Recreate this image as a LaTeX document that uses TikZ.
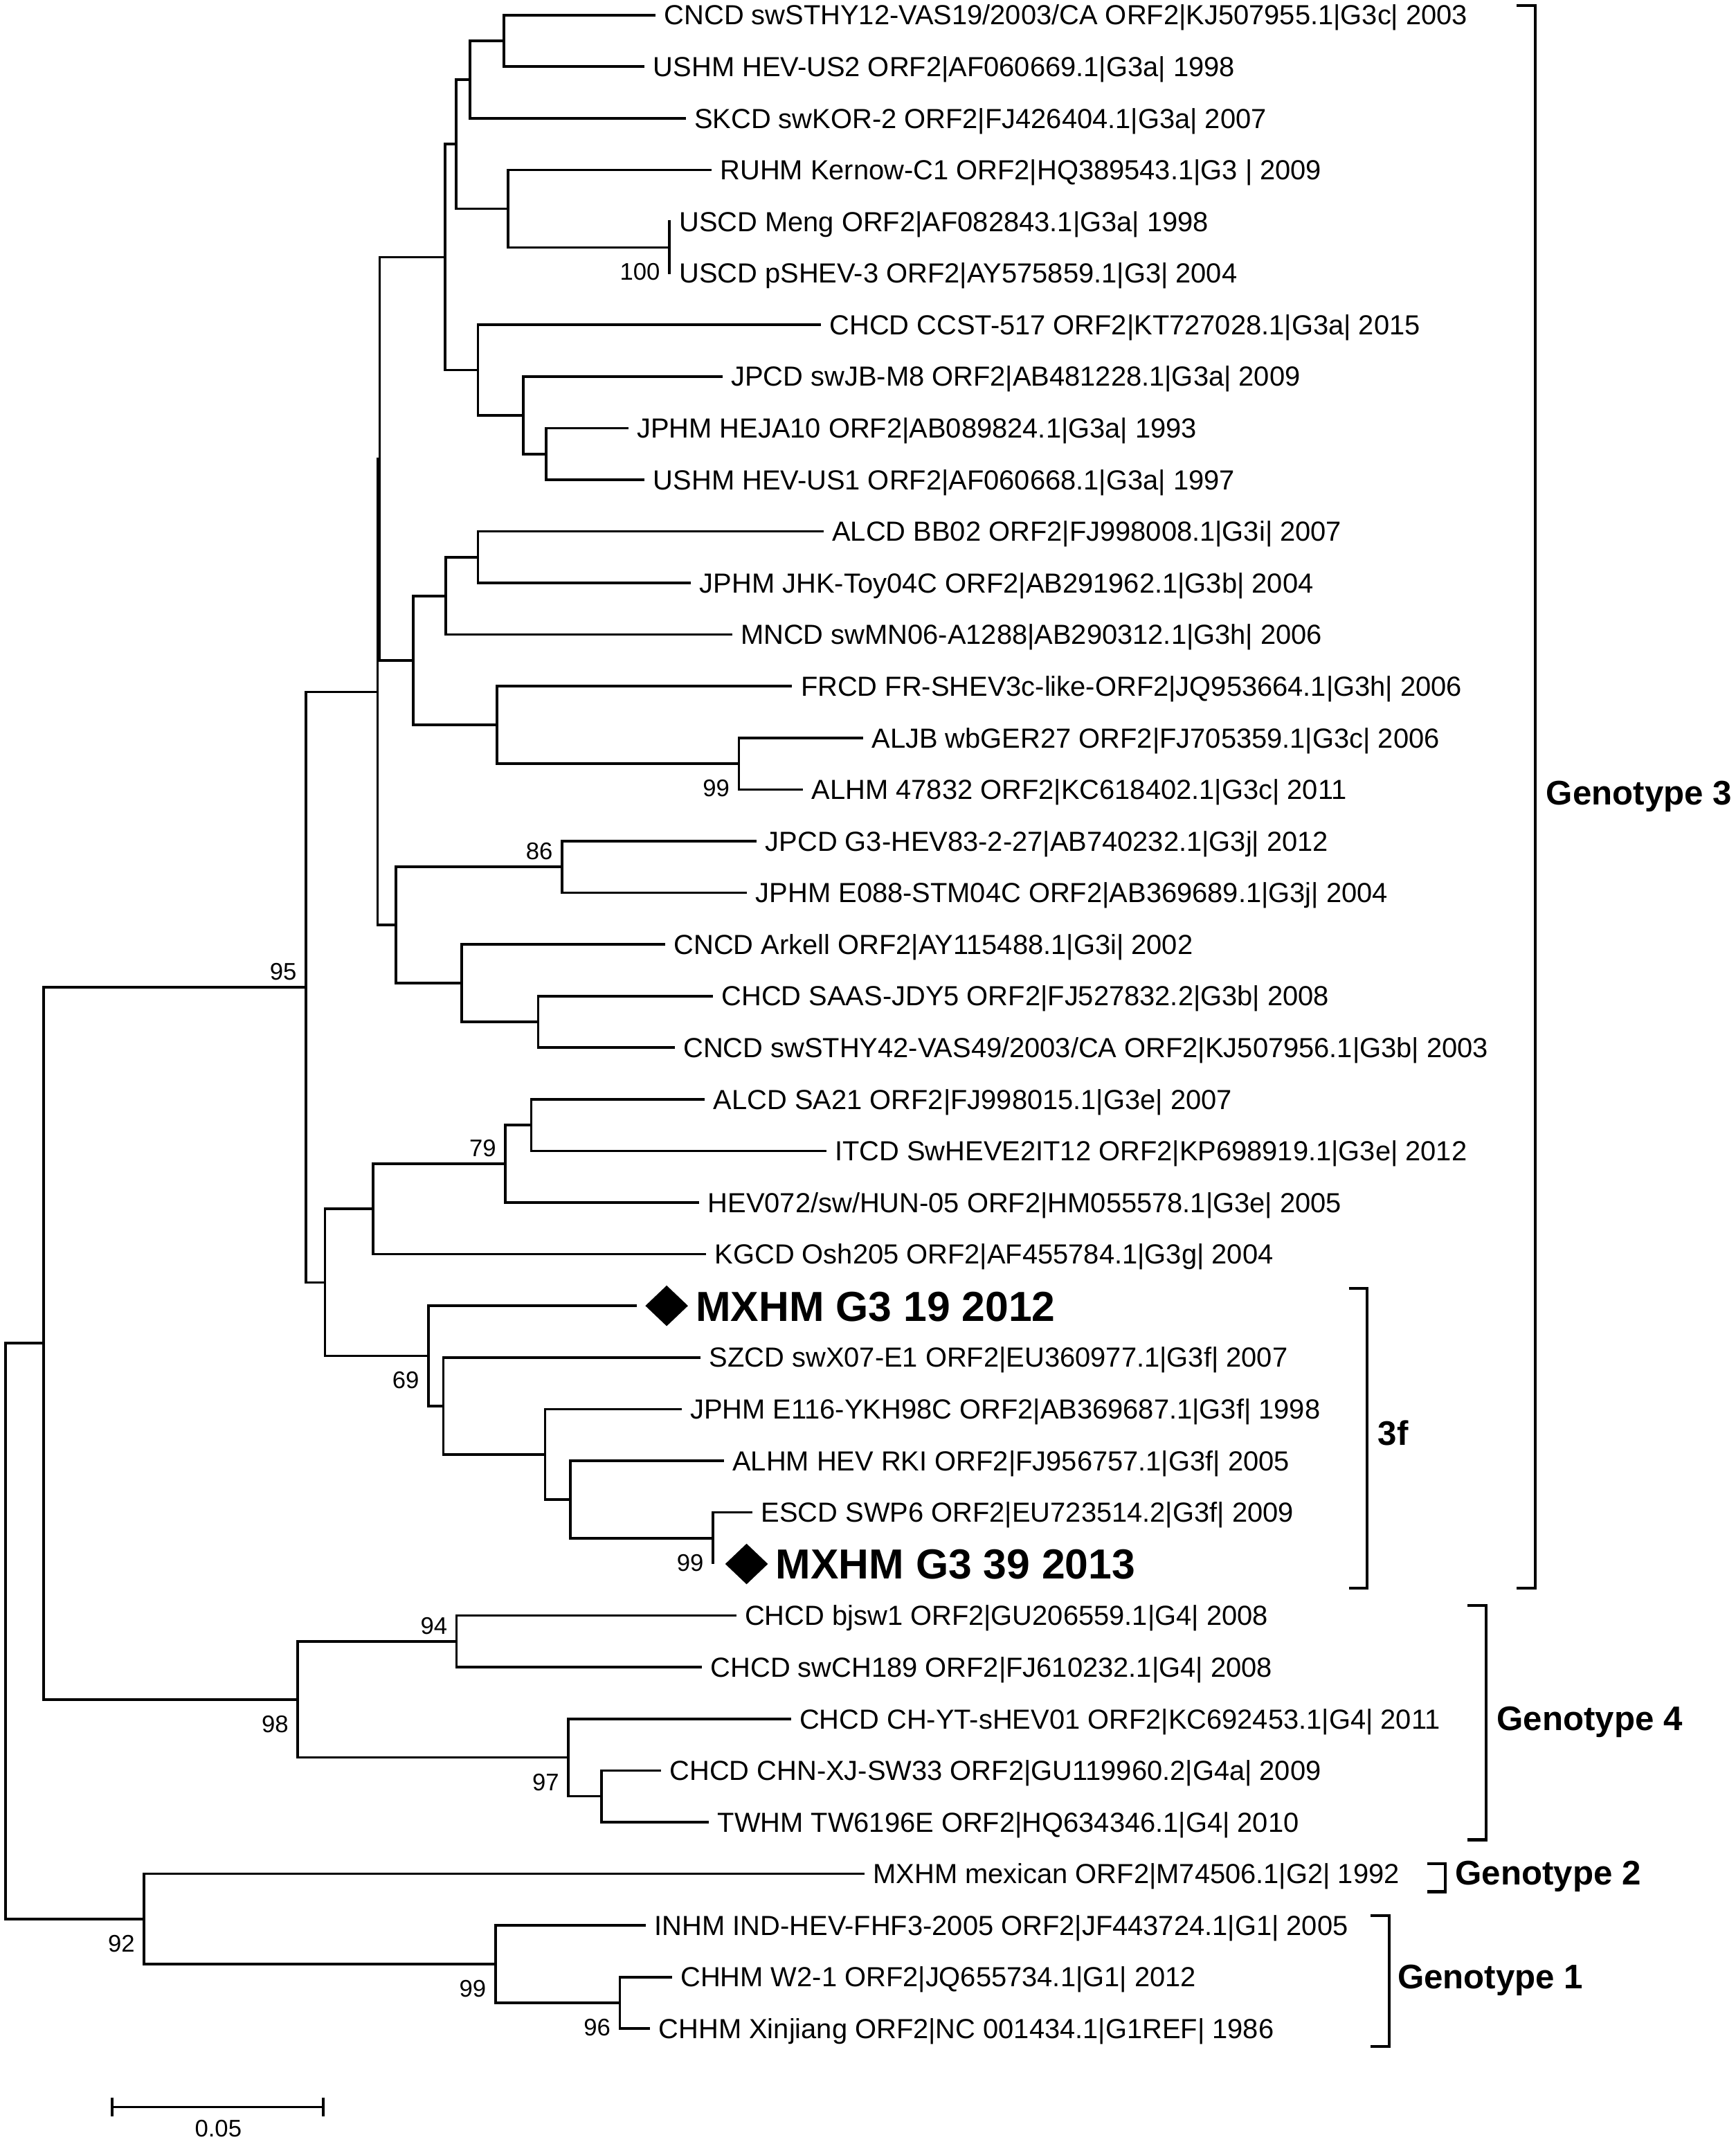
\documentclass[tikz,border=0pt]{standalone}
\usepackage{fontspec}
\setmainfont{Liberation Sans}
\usetikzlibrary{shapes.geometric, positioning}

\begin{document}
\begin{tikzpicture}[x=0.02cm, y=-0.02cm,
  branch/.style={line width=1.05pt},
  bracket/.style={line width=1.2pt},
  leaf/.style={anchor=base west, inner sep=0pt, xshift=0.12cm, yshift=-4.1pt, font=\fontsize{11.5}{13}\selectfont},
  boot/.style={anchor=east, inner sep=0pt, xshift=-0.13cm, font=\fontsize{10}{12}\selectfont},
  bootup/.style={boot, yshift=0.23cm},
  bootdn/.style={boot, yshift=-0.36cm},
  gem/.style={diamond, fill=black, inner sep=0pt, minimum width=0.63cm, minimum height=0.6cm},
  ours/.style={anchor=base west, inner sep=0pt, yshift=-6.3pt, font=\bfseries\fontsize{17.5}{20}\selectfont},
  clade/.style={anchor=base west, inner sep=0pt, yshift=-5.6pt, font=\bfseries\fontsize{14.2}{17}\selectfont}]

\useasboundingbox (0,0) rectangle (1271,1568);

% leaf ends, one row each
\foreach \i/\x in {1/480,2/472,3/502,4/521,5/491,6/491,7/601,8/529,9/460,10/472,
  11/603,12/506,13/536,14/580,15/632,16/588,17/554,18/547,19/487,20/522,
  21/494,22/516,23/605,24/512,25/517,26/466,27/513,28/499,29/530,30/551,
  31/522,32/539,33/514,34/579,35/484,36/519,37/633,38/473,39/492,40/476}
  \coordinate (l\i) at (\x,{11+(\i-1)*37.795});

% inner nodes
\coordinate (n1) at (369,29.9);
\coordinate (n2) at (344,58.25);
\coordinate (n3) at (490,181.1);
\coordinate (n4) at (372,152.75);
\coordinate (n5) at (334,105.5);
\coordinate (n6) at (400,332.3);
\coordinate (n7) at (383,303.95);
\coordinate (n8) at (350,270.9);
\coordinate (n9) at (326,188.2);
\coordinate (n11) at (350,407.85);
\coordinate (n12) at (326.5,436.2);
\coordinate (n13) at (541,559);
\coordinate (n14) at (364,530.65);
\coordinate (n15) at (302.5,483.4);
\coordinate (np) at (278,335.8);
\coordinate (n86) at (411.5,634.6);
\coordinate (n20) at (394,748);
\coordinate (n19) at (338,719.65);
\coordinate (n17) at (290,677.1);
\coordinate (nq) at (276.4,506.45);
\coordinate (n21) at (389,823.6);
\coordinate (n79) at (370,851.95);
\coordinate (n23) at (273,885);
\coordinate (n29) at (522,1126);
\coordinate (n28) at (417.7,1097.65);
\coordinate (n27) at (399,1064.6);
\coordinate (n26) at (324.6,1029.15);
\coordinate (n69) at (313.7,992.5);
\coordinate (n24) at (238,938.75);
\coordinate (n95) at (224,722.6);
\coordinate (n94) at (334.3,1201.5);
\coordinate (ntw) at (440.3,1314.9);
\coordinate (n97) at (416.2,1286.55);
\coordinate (n98) at (218,1244);
\coordinate (ng) at (32,983.3);
\coordinate (n96) at (453.8,1466.1);
\coordinate (n99) at (362.7,1437.75);
\coordinate (n92) at (105.5,1404.7);
\coordinate (root) at (4,1194);

% branches
\foreach \p/\c in {n1/l1,n1/l2,n2/n1,n2/l3,n3/l5,n3/l6,n4/l4,n4/n3,n5/n2,n5/n4,
  n6/l9,n6/l10,n7/l8,n7/n6,n8/l7,n8/n7,n9/n5,n9/n8,
  n11/l11,n11/l12,n12/n11,n12/l13,n13/l15,n13/l16,n14/l14,n14/n13,n15/n12,n15/n14,
  np/n9,np/n15,n86/l17,n86/l18,n20/l20,n20/l21,n19/l19,n19/n20,n17/n86,n17/n19,
  nq/np,nq/n17,n21/l22,n21/l23,n79/n21,n79/l24,n23/n79,n23/l25,
  n29/l30,n29/l31,n28/l29,n28/n29,n27/l28,n27/n28,n26/l27,n26/n27,n69/l26,n69/n26,
  n24/n23,n24/n69,n95/nq,n95/n24,
  n94/l32,n94/l33,ntw/l35,ntw/l36,n97/l34,n97/ntw,n98/n94,n98/n97,ng/n95,ng/n98,
  n96/l39,n96/l40,n99/l38,n99/n96,n92/l37,n92/n99,root/ng,root/n92}
  \draw[branch] (\p) |- (\c);

% taxa
\node[leaf] (t1) at (l1) {CNCD swSTHY12-VAS19/2003/CA ORF2|KJ507955.1|G3c| 2003};
\node[leaf] (t2) at (l2) {USHM HEV-US2 ORF2|AF060669.1|G3a| 1998};
\node[leaf] (t3) at (l3) {SKCD swKOR-2 ORF2|FJ426404.1|G3a| 2007};
\node[leaf] (t4) at (l4) {RUHM Kernow-C1 ORF2|HQ389543.1|G3 | 2009};
\node[leaf] (t5) at (l5) {USCD Meng ORF2|AF082843.1|G3a| 1998};
\node[leaf] (t6) at (l6) {USCD pSHEV-3 ORF2|AY575859.1|G3| 2004};
\node[leaf] (t7) at (l7) {CHCD CCST-517 ORF2|KT727028.1|G3a| 2015};
\node[leaf] (t8) at (l8) {JPCD swJB-M8 ORF2|AB481228.1|G3a| 2009};
\node[leaf] (t9) at (l9) {JPHM HEJA10 ORF2|AB089824.1|G3a| 1993};
\node[leaf] (t10) at (l10) {USHM HEV-US1 ORF2|AF060668.1|G3a| 1997};
\node[leaf] (t11) at (l11) {ALCD BB02 ORF2|FJ998008.1|G3i| 2007};
\node[leaf] (t12) at (l12) {JPHM JHK-Toy04C ORF2|AB291962.1|G3b| 2004};
\node[leaf] (t13) at (l13) {MNCD swMN06-A1288|AB290312.1|G3h| 2006};
\node[leaf] (t14) at (l14) {FRCD FR-SHEV3c-like-ORF2|JQ953664.1|G3h| 2006};
\node[leaf] (t15) at (l15) {ALJB wbGER27 ORF2|FJ705359.1|G3c| 2006};
\node[leaf] (t16) at (l16) {ALHM 47832 ORF2|KC618402.1|G3c| 2011};
\node[leaf] (t17) at (l17) {JPCD G3-HEV83-2-27|AB740232.1|G3j| 2012};
\node[leaf] (t18) at (l18) {JPHM E088-STM04C ORF2|AB369689.1|G3j| 2004};
\node[leaf] (t19) at (l19) {CNCD Arkell ORF2|AY115488.1|G3i| 2002};
\node[leaf] (t20) at (l20) {CHCD SAAS-JDY5 ORF2|FJ527832.2|G3b| 2008};
\node[leaf] (t21) at (l21) {CNCD swSTHY42-VAS49/2003/CA ORF2|KJ507956.1|G3b| 2003};
\node[leaf] (t22) at (l22) {ALCD SA21 ORF2|FJ998015.1|G3e| 2007};
\node[leaf] (t23) at (l23) {ITCD SwHEVE2IT12 ORF2|KP698919.1|G3e| 2012};
\node[leaf] (t24) at (l24) {HEV072/sw/HUN-05 ORF2|HM055578.1|G3e| 2005};
\node[leaf] (t25) at (l25) {KGCD Osh205 ORF2|AF455784.1|G3g| 2004};
\node[gem, right=0.12cm of l26] (d26) {};
\node[ours] (t26) at ([xshift=0.1cm]d26.east) {MXHM G3 19 2012};
\node[leaf] (t27) at (l27) {SZCD swX07-E1 ORF2|EU360977.1|G3f| 2007};
\node[leaf] (t28) at (l28) {JPHM E116-YKH98C ORF2|AB369687.1|G3f| 1998};
\node[leaf] (t29) at (l29) {ALHM HEV RKI ORF2|FJ956757.1|G3f| 2005};
\node[leaf] (t30) at (l30) {ESCD SWP6 ORF2|EU723514.2|G3f| 2009};
\node[gem, right=0.17cm of l31] (d31) {};
\node[ours] (t31) at ([xshift=0.1cm]d31.east) {MXHM G3 39 2013};
\node[leaf] (t32) at (l32) {CHCD bjsw1 ORF2|GU206559.1|G4| 2008};
\node[leaf] (t33) at (l33) {CHCD swCH189 ORF2|FJ610232.1|G4| 2008};
\node[leaf] (t34) at (l34) {CHCD CH-YT-sHEV01 ORF2|KC692453.1|G4| 2011};
\node[leaf] (t35) at (l35) {CHCD CHN-XJ-SW33 ORF2|GU119960.2|G4a| 2009};
\node[leaf] (t36) at (l36) {TWHM TW6196E ORF2|HQ634346.1|G4| 2010};
\node[leaf] (t37) at (l37) {MXHM mexican ORF2|M74506.1|G2| 1992};
\node[leaf] (t38) at (l38) {INHM IND-HEV-FHF3-2005 ORF2|JF443724.1|G1| 2005};
\node[leaf] (t39) at (l39) {CHHM W2-1 ORF2|JQ655734.1|G1| 2012};
\node[leaf] (t40) at (l40) {CHHM Xinjiang ORF2|NC 001434.1|G1REF| 1986};

% bootstrap values
\node[bootdn] (b100) at (n3) {100};
\node[bootdn] (b99a) at (n13) {99};
\node[bootup] (b86) at (n86) {86};
\node[bootup] (b95) at (n95) {95};
\node[bootup] (b79) at (n79) {79};
\node[bootdn] (b69) at (n69) {69};
\node[bootdn] (b99b) at (n29) {99};
\node[bootup] (b94) at (n94) {94};
\node[bootdn] (b98) at (n98) {98};
\node[bootdn] (b97) at (n97) {97};
\node[bootdn] (b92) at (n92) {92};
\node[bootdn] (b99c) at (n99) {99};
\node[bootdn] (b96) at (n96) {96};

% clade brackets
\coordinate (g3t) at (1124,4);
\coordinate (g3b) at (1124,1162.5);
\coordinate (ft) at (1001,943.3);
\coordinate (fb) at (1001,1162.5);
\coordinate (g4t) at (1088,1175.3);
\coordinate (g4b) at (1088,1346.8);
\coordinate (g2t) at (1058.3,1364.2);
\coordinate (g2b) at (1058.3,1384.8);
\coordinate (g1t) at (1017,1402.2);
\coordinate (g1b) at (1017,1498);
\foreach \t/\b in {g3t/g3b, ft/fb, g4t/g4b, g2t/g2b, g1t/g1b}
  \draw[bracket] ([xshift=-0.27cm]\t) -- (\t) -- (\b) -- ([xshift=-0.27cm]\b);
\node[clade] (lg3) at (1131.7,579.5) {Genotype 3};
\node[clade] (lf) at (1008.6,1048) {3f};
\node[clade] (lg4) at (1095.6,1257) {Genotype 4};
\node[clade] (lg2) at (1065.2,1370) {Genotype 2};
\node[clade] (lg1) at (1022.9,1445.7) {Genotype 1};

% scale bar
\coordinate (s0) at (82.2,1542.3);
\coordinate (s1) at (236.6,1542.3);
\draw[branch] (s0) -- (s1);
\draw[branch] ([yshift=0.14cm]s0) -- ([yshift=-0.14cm]s0);
\draw[branch] ([yshift=0.14cm]s1) -- ([yshift=-0.14cm]s1);
\node[inner sep=0pt, font=\fontsize{10}{12}\selectfont] (sl) at (159.8,1558) {0.05};

\end{tikzpicture}
\end{document}
